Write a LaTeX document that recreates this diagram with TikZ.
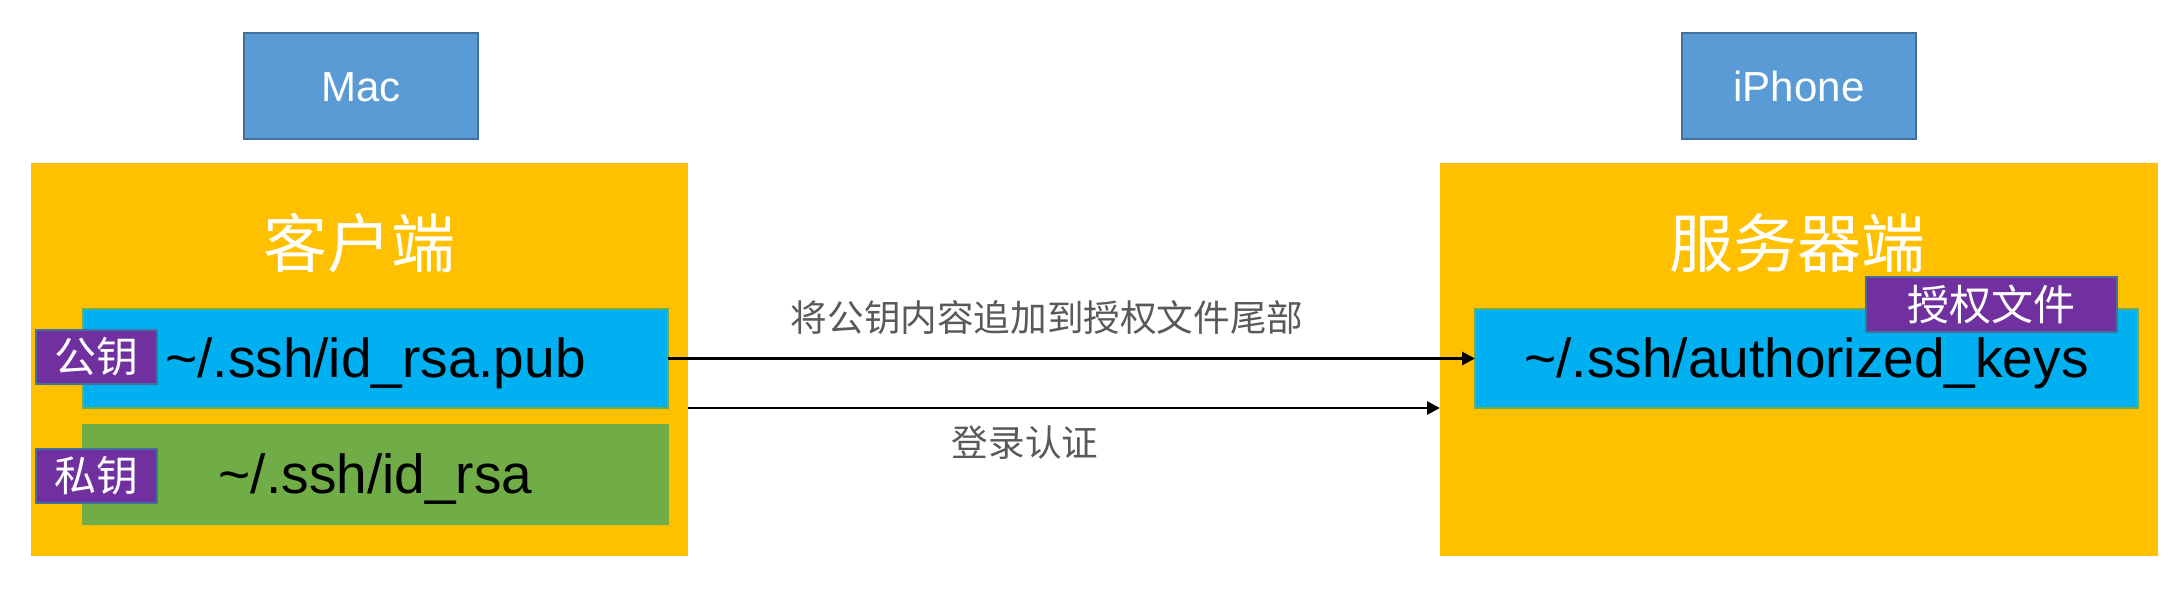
\documentclass[tikz,border=0pt]{standalone}
\usepackage{fontspec}
\setmainfont{Liberation Sans}
\newfontfamily\cjk{Noto Sans CJK SC}
\usetikzlibrary{arrows.meta}
\definecolor{macblue}{HTML}{5B9BD5}
\definecolor{macborder}{HTML}{41719C}
\definecolor{myorange}{HTML}{FFC000}
\definecolor{keyblue}{HTML}{00B0F0}
\definecolor{keygreen}{HTML}{70AD47}
\definecolor{keypurple}{HTML}{7030A0}
\definecolor{labelgray}{HTML}{595959}
\tikzset{
  box/.style={rectangle, inner sep=0pt, outer sep=0pt},
  devbox/.style={box, fill=macblue, draw=macborder, line width=2pt, text=white,
    font=\fontsize{42}{48}\selectfont, text height=30pt, text depth=0pt},
  sidebox/.style={box, fill=myorange},
  title/.style={text=white, font=\cjk\fontsize{64}{72}\selectfont, inner sep=0pt},
  filebox/.style={box, draw=keygreen, line width=1.5pt,
    font=\fontsize{55}{62}\selectfont, text height=38.5pt, text depth=0pt},
  tagbox/.style={box, fill=keypurple, draw=macborder, line width=2pt, text=white,
    font=\cjk\fontsize{42}{48}\selectfont},
  lbl/.style={text=labelgray, inner sep=0pt, font=\cjk\fontsize{36.6}{42}\selectfont},
  arr/.style={line width=2.8pt, -{Triangle[length=13pt,width=13pt]}}
}
\begin{document}
\begin{tikzpicture}[x=1pt, y={(0pt,-1pt)}]
\useasboundingbox (0,0) rectangle (2184,610);
% device boxes
\node[devbox, minimum width=234pt, minimum height=106pt] (mac) at (361,86) {Mac};
\node[devbox, minimum width=234pt, minimum height=106pt] (iph) at (1799,86) {iPhone};
% client / server areas
\node[sidebox, minimum width=657pt, minimum height=393pt] (lo) at (359.5,359.5) {};
\node[sidebox, minimum width=718pt, minimum height=393pt] (ro) at (1799,359.5) {};
\node[title] (client) at (359,243) {客户端};
\node[title] (server) at (1797,243) {服务器端};
% key files
\node[filebox, fill=keyblue, minimum width=585pt, minimum height=99pt] (pub) at (375.5,358.5) {\textasciitilde/.ssh/id\_rsa.pub};
\node[filebox, fill=keygreen, minimum width=585pt, minimum height=99pt] (priv) at (375.5,474.5) {\textasciitilde/.ssh/id\_rsa};
\node[filebox, fill=keyblue, minimum width=663pt, minimum height=99pt] (ak) at (1806.5,358.5) {\textasciitilde/.ssh/authorized\_keys};
% tags
\node[tagbox, minimum width=121pt, minimum height=54pt] (pubtag) at (96.5,356.5) {公钥};
\node[tagbox, minimum width=121pt, minimum height=54pt] (privtag) at (96.5,476) {私钥};
\node[tagbox, minimum width=251pt, minimum height=55pt] (aktag) at (1991.5,304.5) {授权文件};
% arrows
\draw[arr] (pub.east) -- (ak.west);
\draw[arr] (lo.east |- pub.south) -- (ro.west |- pub.south);
% labels
\node[lbl] (l1) at (1047,318) {将公钥内容追加到授权文件尾部};
\node[lbl] (l2) at (1025,443) {登录认证};
\end{tikzpicture}
\end{document}
